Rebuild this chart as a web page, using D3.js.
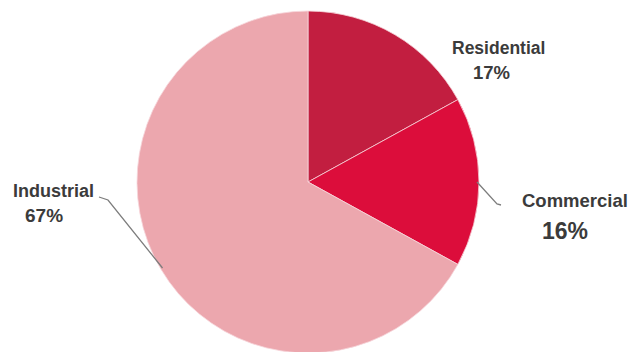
<!DOCTYPE html>
<html>
<head>
<meta charset="utf-8">
<script src="https://cdn.jsdelivr.net/npm/d3@7"></script>
<style>
html,body{margin:0;padding:0;background:#fff;}
svg{display:block;}
</style>
</head>
<body>
<svg id="chart" width="633" height="352"></svg>
<script>
// ---- data ----
const categories = ["Residential", "Commercial", "Industrial"];
const values = [17, 16, 67];
const percentLabels = ["17%", "16%", "67%"];

// ---- styling / layout (not data) ----
const colors = ["#c21e40", "#dc0d3b", "#eca7ae"];
const W = 633, H = 352;
const cx = 308, cy = 182, R = 171;
// label placement per category: name line, percent line, leader bends
const labelLayout = [
  {nx: 452, ny: 54, nsize: 17.5, px: 473, py: 79, psize: 18.5, leader: null},
  {nx: 522, ny: 207, nsize: 18.5, px: 542, py: 239, psize: 23, leader: [[497, 204], [501, 205]]},
  {nx: 13, ny: 197, nsize: 18, px: 25, py: 222, psize: 19, leader: [[108, 200], [99, 197]]}
];

const svg = d3.select("#chart");
const g = svg.append("g").attr("transform", `translate(${cx},${cy})`);

const pie = d3.pie().sort(null).value(d => d)(values);
const arc = d3.arc().innerRadius(0).outerRadius(R);
const edgeArc = d3.arc().innerRadius(R - 1).outerRadius(R - 1);

g.selectAll("path.slice")
  .data(pie)
  .join("path")
  .attr("class", "slice")
  .attr("d", arc)
  .attr("fill", (d, i) => colors[i])
  .attr("stroke", "#f6d6da")
  .attr("stroke-width", 0.8);

// leader lines
pie.forEach((d, i) => {
  const L = labelLayout[i];
  if (!L.leader) return;
  const a = (d.startAngle + d.endAngle) / 2;
  const start = [cx + (R - 2) * Math.sin(a), cy - (R - 2) * Math.cos(a)];
  const pts = [start].concat(L.leader);
  svg.append("path")
    .attr("d", d3.line()(pts))
    .attr("fill", "none")
    .attr("stroke", "#7d7d7d")
    .attr("stroke-width", 1.3);
});

// labels
categories.forEach((c, i) => {
  const L = labelLayout[i];
  svg.append("text")
    .attr("x", L.nx).attr("y", L.ny)
    .attr("font-family", "Liberation Sans, Arial, sans-serif")
    .attr("font-weight", "bold")
    .attr("font-size", L.nsize)
    .attr("fill", "#3b3b3b")
    .text(c);
  svg.append("text")
    .attr("x", L.px).attr("y", L.py)
    .attr("font-family", "Liberation Sans, Arial, sans-serif")
    .attr("font-weight", "bold")
    .attr("font-size", L.psize)
    .attr("fill", "#3b3b3b")
    .text(percentLabels[i]);
});
</script>
</body>
</html>
